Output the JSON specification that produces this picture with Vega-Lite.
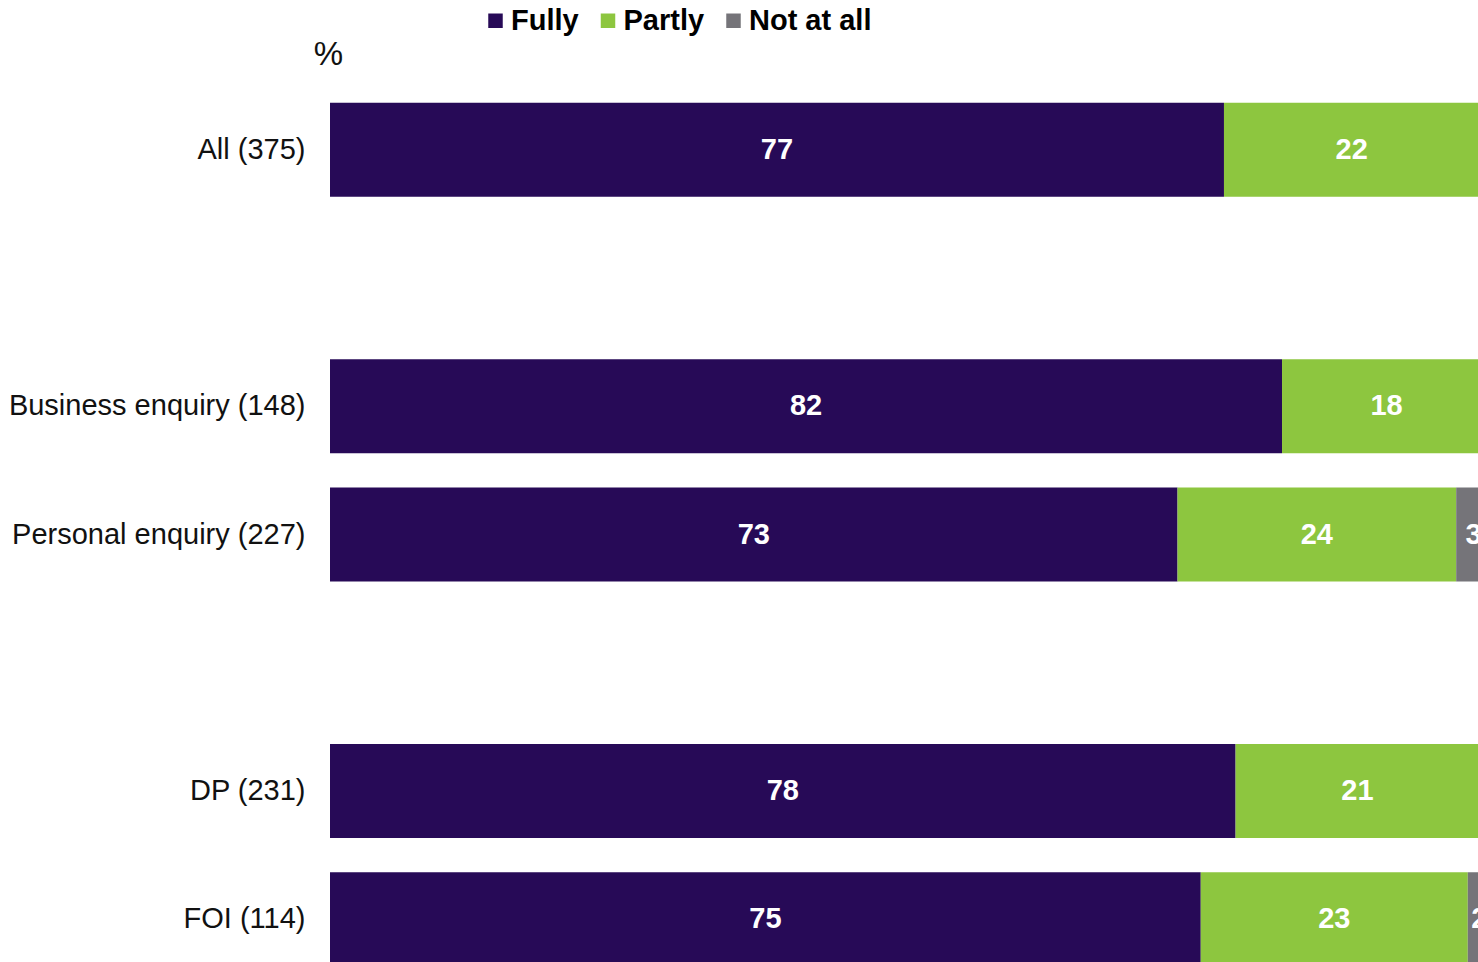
{
  "$schema": "https://vega.github.io/schema/vega-lite/v6.json",
  "autosize": {"type": "none"},
  "padding": {"left": 330, "top": 0, "right": 0, "bottom": 0},
  "width": 1148,
  "height": 962,
  "background": "white",
  "config": {"view": {"stroke": null}, "font": "Liberation Sans"},
  "data": {"values": [
    {"group": "All (375)", "response": "Fully", "value": 77},
    {"group": "All (375)", "response": "Partly", "value": 22},
    {"group": "All (375)", "response": "Not at all", "value": 1},
    {"group": "Business enquiry (148)", "response": "Fully", "value": 82},
    {"group": "Business enquiry (148)", "response": "Partly", "value": 18},
    {"group": "Business enquiry (148)", "response": "Not at all", "value": 0},
    {"group": "Personal enquiry (227)", "response": "Fully", "value": 73},
    {"group": "Personal enquiry (227)", "response": "Partly", "value": 24},
    {"group": "Personal enquiry (227)", "response": "Not at all", "value": 3},
    {"group": "DP (231)", "response": "Fully", "value": 78},
    {"group": "DP (231)", "response": "Partly", "value": 21},
    {"group": "DP (231)", "response": "Not at all", "value": 1},
    {"group": "FOI (114)", "response": "Fully", "value": 75},
    {"group": "FOI (114)", "response": "Partly", "value": 23},
    {"group": "FOI (114)", "response": "Not at all", "value": 2}
  ]},
  "transform": [
    {"calculate": "indexof(['Fully', 'Partly', 'Not at all'], datum.response)", "as": "rank"}
  ],
  "encoding": {
    "y": {
      "field": "group", "type": "nominal",
      "scale": {
        "domain": ["All (375)", "gap1", "Business enquiry (148)", "Personal enquiry (227)", "gap2", "DP (231)", "FOI (114)"],
        "range": [85.5, 983.5],
        "paddingInner": 0.2675,
        "paddingOuter": 0.134
      },
      "axis": {
        "labelExpr": "indexof(datum.value, 'gap') == 0 ? '' : datum.value",
        "ticks": false, "domain": false, "labelPadding": 25, "labelLimit": 0,
        "labelFontSize": 29, "labelColor": "#111111", "labelFont": "Liberation Sans",
        "title": "%", "titleAngle": 0, "titleX": -2, "titleY": 54,
        "titleAlign": "center", "titleBaseline": "middle",
        "titleFontSize": 33, "titleFontWeight": "normal", "titleFont": "Liberation Sans", "titleColor": "#111111"
      }
    },
    "x": {
      "field": "value", "type": "quantitative", "stack": "zero",
      "scale": {"domain": [0, 98.88], "nice": false, "zero": true},
      "axis": null
    },
    "order": {"field": "rank", "type": "quantitative", "sort": "ascending"}
  },
  "layer": [
    {
      "mark": {"type": "bar", "clip": true},
      "encoding": {
        "color": {
          "field": "response", "type": "nominal",
          "sort": ["Fully", "Partly", "Not at all"],
          "scale": {"domain": ["Fully", "Partly", "Not at all"], "range": ["#270A57", "#8DC63F", "#757479"]},
          "legend": {
            "orient": "none", "direction": "horizontal", "title": null,
            "legendX": 151, "legendY": 6,
            "symbolType": "square", "symbolSize": 210, "symbolStrokeWidth": 0,
            "labelFontSize": 29, "labelFontWeight": "bold", "labelFont": "Liberation Sans", "labelColor": "#000000",
            "labelOffset": 1, "columnPadding": 14.5, "padding": 0
          }
        }
      }
    },
    {
      "transform": [{"filter": "datum.value > 0"}],
      "mark": {"type": "text", "clip": true, "color": "white", "fontSize": 29, "fontWeight": "bold", "font": "Liberation Sans", "baseline": "middle", "align": "center"},
      "encoding": {
        "x": {"field": "value", "type": "quantitative", "stack": "zero", "bandPosition": 0.5},
        "text": {"field": "value", "type": "quantitative"}
      }
    }
  ]
}
